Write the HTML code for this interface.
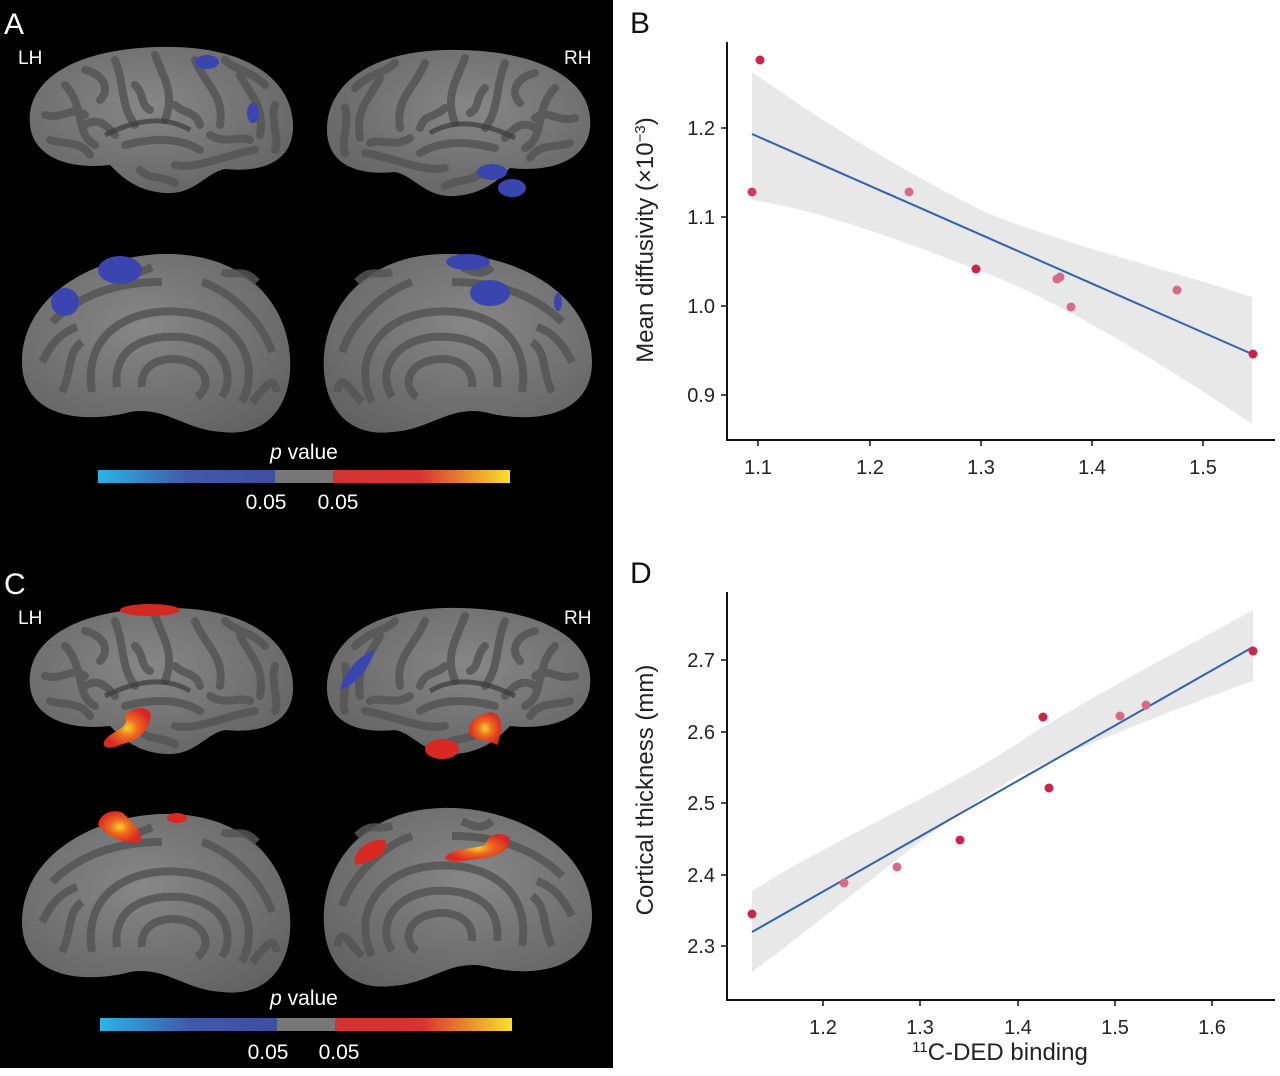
<!DOCTYPE html>
<html><head><meta charset="utf-8"><style>
html,body{margin:0;padding:0;background:#fff}
body{width:1280px;height:1071px;overflow:hidden;font-family:"Liberation Sans",sans-serif}
</style></head><body>
<svg width="1280" height="1071" viewBox="0 0 1280 1071" xmlns="http://www.w3.org/2000/svg" font-family="Liberation Sans, DejaVu Sans, sans-serif">
<defs>
<linearGradient id="cb" x1="0" x2="1">
<stop offset="0" stop-color="#2bb3e6"/><stop offset="0.22" stop-color="#4059a8"/><stop offset="0.43" stop-color="#3f4fa0"/>
<stop offset="0.43" stop-color="#777"/><stop offset="0.57" stop-color="#777"/><stop offset="0.57" stop-color="#d33333"/>
<stop offset="0.78" stop-color="#d83232"/><stop offset="1" stop-color="#f8e02a"/></linearGradient>
<radialGradient id="hot"><stop offset="0" stop-color="#f8d22a"/><stop offset="0.45" stop-color="#ee6a20"/><stop offset="1" stop-color="#d82a22"/></radialGradient>
<radialGradient id="sh" cx="0.45" cy="0.4" r="0.7"><stop offset="0" stop-color="#878787"/><stop offset="1" stop-color="#626262"/></radialGradient>
<g id="lat">
<path d="M5,80 C0,30 60,0 150,2 C230,4 270,40 268,85 C266,115 240,128 200,124 C180,128 170,150 140,148 C110,146 95,130 85,120 C40,125 8,110 5,80Z" fill="url(#sh)"/>
<g fill="none" stroke="#555" stroke-width="8" stroke-linecap="round" opacity="0.85">
<path d="M40,40 C60,60 50,90 70,100"/><path d="M90,15 C100,40 95,60 110,80"/><path d="M130,10 C140,35 150,50 140,75"/>
<path d="M170,15 C180,40 200,50 195,80"/><path d="M215,30 C225,50 240,60 235,90"/><path d="M20,70 C40,75 45,60 60,70"/>
<path d="M100,100 C120,95 150,90 175,105"/><path d="M150,120 C170,125 200,110 230,105"/><path d="M60,25 C80,30 85,45 75,55"/>
<path d="M115,125 C125,135 135,130 150,138"/><path d="M25,95 C40,100 55,95 65,110"/><path d="M200,15 C210,25 225,25 240,40"/>
<path d="M250,60 C245,75 255,95 250,105"/><path d="M110,40 C120,50 115,60 125,65"/><path d="M185,90 C200,100 215,90 225,95"/>
<path d="M60,80 C75,70 85,85 90,90"/><path d="M150,60 C160,70 170,65 175,80"/></g>
<path d="M80,90 C110,75 140,70 165,85" fill="none" stroke="#3a3a3a" stroke-width="5" opacity="0.7"/>
</g>
<g id="med">
<path d="M0,110 C0,40 80,0 150,2 C230,4 272,60 268,120 C265,160 240,185 200,180 C160,178 140,150 100,162 C50,172 0,160 0,110Z" fill="url(#sh)"/>
<g fill="none" stroke="#555" stroke-width="8" opacity="0.85">
<path d="M70,140 C60,80 110,55 160,60 C215,65 240,110 220,150"/>
<path d="M95,135 C90,95 125,82 160,85 C200,90 215,120 200,145"/>
<path d="M120,135 C118,112 140,104 160,108 C185,113 190,135 175,145"/>
<path d="M30,70 C60,40 100,30 140,30"/><path d="M180,30 C210,40 240,70 250,100"/>
<path d="M20,110 C30,90 40,80 55,75"/><path d="M40,140 C50,120 45,100 60,90"/><path d="M230,150 C245,135 250,120 255,140"/>
<path d="M100,15 C110,25 120,20 130,15"/><path d="M200,20 C215,25 220,15 235,30"/></g>
</g>
</defs>
<rect x="0" y="0" width="613" height="1068" fill="#000"/>
<text x="4" y="34" font-size="30" fill="#fff">A</text>
<text x="18" y="64" font-size="19" fill="#fff">LH</text>
<text x="564" y="64" font-size="19" fill="#fff">RH</text>
<use href="#lat" transform="translate(25,45)"/>
<use href="#lat" transform="translate(595,48) scale(-1,1)"/>
<use href="#med" transform="translate(22,252)"/>
<use href="#med" transform="translate(592,252) scale(-1,1)"/>
<g fill="#3a45b0">
<ellipse cx="207" cy="62" rx="12" ry="7"/><ellipse cx="253" cy="113" rx="6" ry="10"/>
<ellipse cx="492" cy="172" rx="15" ry="8"/><ellipse cx="512" cy="188" rx="14" ry="9"/>
<ellipse cx="120" cy="270" rx="22" ry="14"/><ellipse cx="65" cy="302" rx="14" ry="14"/>
<ellipse cx="468" cy="262" rx="22" ry="8"/><ellipse cx="490" cy="293" rx="20" ry="13"/><ellipse cx="558" cy="302" rx="4" ry="9"/>
</g>
<text x="304" y="459" font-size="21" fill="#fff" text-anchor="middle"><tspan font-style="italic">p</tspan> value</text>
<rect x="98" y="470" width="412" height="13" fill="url(#cb)"/>
<text x="266" y="509" font-size="21" fill="#fff" text-anchor="middle">0.05</text>
<text x="338" y="509" font-size="21" fill="#fff" text-anchor="middle">0.05</text>
<text x="4" y="594" font-size="30" fill="#fff">C</text>
<text x="18" y="624" font-size="19" fill="#fff">LH</text>
<text x="564" y="624" font-size="19" fill="#fff">RH</text>
<use href="#lat" transform="translate(25,606)"/>
<use href="#lat" transform="translate(595,606) scale(-1,1)"/>
<use href="#med" transform="translate(22,812)"/>
<use href="#med" transform="translate(592,806) scale(-1,1)"/>
<g fill="url(#hot)">
<ellipse cx="150" cy="610" rx="30" ry="6" fill="#d02a22"/>
<path d="M105,740 C115,728 130,730 125,715 C135,705 155,705 150,720 C145,738 130,742 120,745 C110,750 100,748 105,740Z"/>
<path d="M470,735 C465,720 480,715 490,712 C505,713 502,735 497,745 C490,740 480,742 470,735Z"/>
<ellipse cx="442" cy="749" rx="17" ry="10" fill="#d82a22"/>
<path d="M98,825 C100,810 120,808 125,815 C135,825 145,835 140,842 C125,845 110,838 98,825Z"/>
<ellipse cx="177" cy="818" rx="10" ry="5" fill="#d82a22"/>
<path d="M355,865 C352,850 370,838 385,840 C390,852 375,862 355,865Z" fill="#d82a22"/>
<path d="M445,858 C450,848 470,850 485,845 C488,835 500,830 510,838 C510,852 495,858 470,860 C458,862 448,862 445,858Z"/>
</g>
<path d="M340,690 C345,670 360,655 375,650 C370,668 355,685 340,690Z" fill="#3a45b0"/>
<text x="304" y="1005" font-size="21" fill="#fff" text-anchor="middle"><tspan font-style="italic">p</tspan> value</text>
<rect x="100" y="1018" width="412" height="13" fill="url(#cb)"/>
<text x="268" y="1059" font-size="21" fill="#fff" text-anchor="middle">0.05</text>
<text x="339" y="1059" font-size="21" fill="#fff" text-anchor="middle">0.05</text>
<text x="630" y="33" font-size="30" fill="#111">B</text>
<path d="M752,72 C820,120 900,170 983,211 C1050,240 1170,270 1252,297 L1252,424 C1180,375 1060,300 983,272 C900,240 820,210 752,200Z" fill="#e8e8e8"/>
<line x1="752" y1="134" x2="1252" y2="354" stroke="#2f64ad" stroke-width="2"/>
<g fill="#d33a5e">
<circle cx="752" cy="192" r="4.5"/><circle cx="760" cy="60" r="4.5" fill="#cc2448"/><circle cx="909" cy="192" r="4.5" fill="#d96a86"/>
<circle cx="976" cy="269" r="4.5" fill="#cc2448"/><circle cx="1057" cy="279" r="4.5" fill="#d96a86"/><circle cx="1060" cy="277" r="4.5" fill="#d96a86"/>
<circle cx="1071" cy="307" r="4.5" fill="#d96a86"/><circle cx="1177" cy="290" r="4.5" fill="#d96a86"/><circle cx="1253" cy="354" r="4.5" fill="#cc2448"/>
</g>
<g stroke="#111" stroke-width="2" fill="none"><path d="M727,42 V440 H1275"/></g>
<g stroke="#111" stroke-width="1.5">
<line x1="721" y1="128" x2="727" y2="128"/><line x1="721" y1="217" x2="727" y2="217"/><line x1="721" y1="306" x2="727" y2="306"/><line x1="721" y1="395" x2="727" y2="395"/>
<line x1="758" y1="440" x2="758" y2="446"/><line x1="870" y1="440" x2="870" y2="446"/><line x1="981" y1="440" x2="981" y2="446"/><line x1="1092" y1="440" x2="1092" y2="446"/><line x1="1203" y1="440" x2="1203" y2="446"/>
</g>
<g font-size="20" fill="#222" text-anchor="end">
<text x="715" y="135">1.2</text><text x="715" y="224">1.1</text><text x="715" y="313">1.0</text><text x="715" y="402">0.9</text></g>
<g font-size="20" fill="#222" text-anchor="middle">
<text x="758" y="474">1.1</text><text x="870" y="474">1.2</text><text x="981" y="474">1.3</text><text x="1092" y="474">1.4</text><text x="1203" y="474">1.5</text></g>
<text transform="translate(653,240) rotate(-90)" font-size="24" fill="#222" text-anchor="middle">Mean diffusivity  (×10<tspan dy="-8" font-size="15">−3</tspan><tspan dy="8">)</tspan></text>
<text x="630" y="583" font-size="30" fill="#111">D</text>
<path d="M752,891 C850,830 950,790 1030,735 C1120,680 1200,640 1253,610 L1253,681 C1200,700 1120,730 1030,770 C950,810 850,900 752,972Z" fill="#e8e8e8"/>
<line x1="752" y1="932" x2="1253" y2="647" stroke="#2f64ad" stroke-width="2"/>
<g fill="#cc2448">
<circle cx="752" cy="914" r="4.5"/><circle cx="844" cy="883" r="4.5" fill="#d96a86"/><circle cx="897" cy="867" r="4.5" fill="#d96a86"/>
<circle cx="960" cy="840" r="4.5"/><circle cx="1043" cy="717" r="4.5"/><circle cx="1049" cy="788" r="4.5"/>
<circle cx="1120" cy="716" r="4.5" fill="#d96a86"/><circle cx="1146" cy="705" r="4.5" fill="#d96a86"/><circle cx="1253" cy="651" r="4.5"/>
</g>
<g stroke="#111" stroke-width="2" fill="none"><path d="M727,592 V1000 H1275"/></g>
<g stroke="#111" stroke-width="1.5">
<line x1="721" y1="660" x2="727" y2="660"/><line x1="721" y1="732" x2="727" y2="732"/><line x1="721" y1="803" x2="727" y2="803"/><line x1="721" y1="875" x2="727" y2="875"/><line x1="721" y1="946" x2="727" y2="946"/>
<line x1="823" y1="1000" x2="823" y2="1006"/><line x1="920" y1="1000" x2="920" y2="1006"/><line x1="1018" y1="1000" x2="1018" y2="1006"/><line x1="1115" y1="1000" x2="1115" y2="1006"/><line x1="1212" y1="1000" x2="1212" y2="1006"/>
</g>
<g font-size="20" fill="#222" text-anchor="end">
<text x="715" y="667">2.7</text><text x="715" y="739">2.6</text><text x="715" y="810">2.5</text><text x="715" y="882">2.4</text><text x="715" y="953">2.3</text></g>
<g font-size="20" fill="#222" text-anchor="middle">
<text x="823" y="1034">1.2</text><text x="920" y="1034">1.3</text><text x="1018" y="1034">1.4</text><text x="1115" y="1034">1.5</text><text x="1212" y="1034">1.6</text></g>
<text transform="translate(653,790) rotate(-90)" font-size="24" fill="#222" text-anchor="middle">Cortical thickness (mm)</text>
<text x="1000" y="1060" font-size="24" fill="#222" text-anchor="middle"><tspan dy="-8" font-size="15">11</tspan><tspan dy="8">C-DED binding</tspan></text>
</svg>
</body></html>
